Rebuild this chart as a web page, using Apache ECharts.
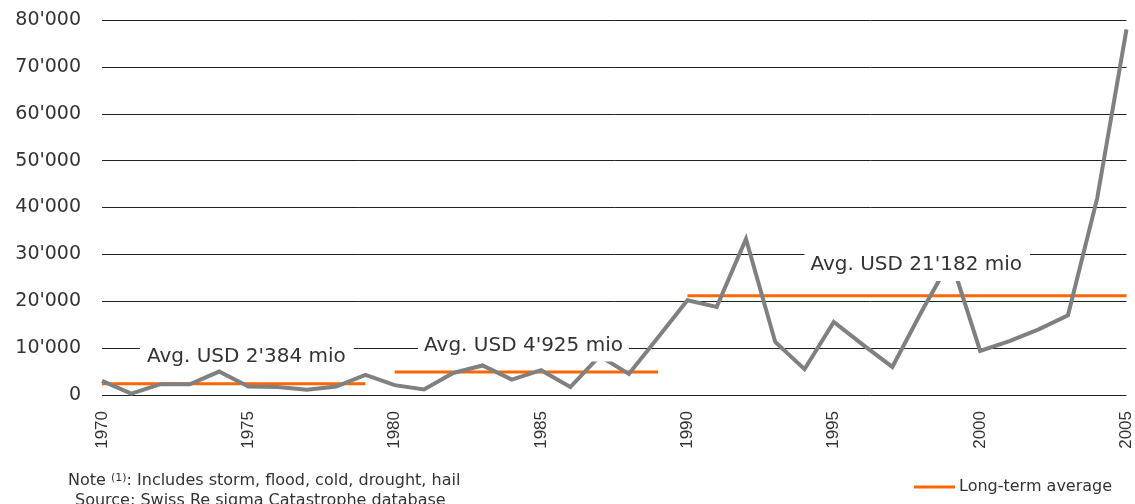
<!DOCTYPE html>
<html>
<head>
<meta charset="utf-8">
<script src="https://cdn.jsdelivr.net/npm/echarts@6/dist/echarts.min.js"></script>
<style>
  html, body { margin: 0; padding: 0; background: #ffffff; }
  #chart { width: 1135px; height: 504px; }
</style>
</head>
<body>
<div id="chart"></div>
<script>
// Weather-related insured losses per year, USD million
const years = [
  1970, 1971, 1972, 1973, 1974, 1975, 1976, 1977, 1978, 1979,
  1980, 1981, 1982, 1983, 1984, 1985, 1986, 1987, 1988, 1989,
  1990, 1991, 1992, 1993, 1994, 1995, 1996, 1997, 1998, 1999,
  2000, 2001, 2002, 2003, 2004, 2005
];
const insuredLosses = [
  3000, 300, 2300, 2300, 5000, 1800, 1700, 1100, 1800, 4300,
  2100, 1200, 4700, 6300, 3300, 5300, 1700, 8300, 4500, 12300,
  20200, 18800, 33300, 11300, 5500, 15600, 10700, 6000, 17800, 28900,
  9400, 11500, 14000, 17000, 42000, 78000
];

// Long-term averages per period
const periodStart = [1970, 1980, 1990];
const periodEnd = [1979, 1989, 2005];
const periodAverage = [2384, 4925, 21182];

// Axis ticks
const xTickYears = [1970, 1975, 1980, 1985, 1990, 1995, 2000, 2005];
const yTickLabels = ["0", "10'000", "20'000", "30'000", "40'000", "50'000", "60'000", "70'000", "80'000"];

const legendName = 'Long-term average';
const noteLead = 'Note ';
const noteMark = '(1)';
const noteBody = ': Includes storm, flood, cold, drought, hail';
const sourceText = 'Source: Swiss Re sigma Catastrophe database';

function swissThousands(n) {
  return String(Math.round(n)).replace(/\B(?=(\d{3})+(?!\d))/g, "'");
}

const FONT = 'DejaVu Sans';
const TEXT = '#333333';

// where each period label sits (year, value) and its box padding
const labelSpots = [
  { coord: [1974.95, 8100], padding: [2, 8, 1, 7] },
  { coord: [1984.4, 10560], padding: [6, 6, 6, 6] },
  { coord: [1997.85, 27730], padding: [6, 8, 6, 6] }
];

const averageSeries = periodAverage.map((avg, i) => ({
  type: 'line',
  name: legendName,
  data: [[periodStart[i], avg], [periodEnd[i], avg]],
  symbol: 'none',
  z: 2,
  silent: true,
  animation: false,
  lineStyle: { color: '#FF6600', width: 3 },
  itemStyle: { color: '#FF6600' },
  markPoint: {
    z: 6,
    symbol: 'rect',
    symbolSize: 1,
    silent: true,
    animation: false,
    itemStyle: { color: 'rgba(0,0,0,0)' },
    data: [{
      coord: labelSpots[i].coord,
      label: {
        show: true,
        position: 'inside',
        formatter: 'Avg. USD ' + swissThousands(avg) + ' mio',
        fontFamily: FONT,
        fontSize: 20,
        lineHeight: 20,
        color: TEXT,
        backgroundColor: '#ffffff',
        padding: labelSpots[i].padding
      }
    }]
  }
}));

const option = {
  backgroundColor: '#ffffff',
  animation: false,
  grid: { left: 102, right: 8, top: 20, bottom: 109, containLabel: false },
  legend: {
    data: [{ name: legendName, icon: 'rect' }],
    left: 914,
    top: 479,
    padding: 0,
    itemWidth: 41,
    itemHeight: 3,
    selectedMode: false,
    textStyle: { fontFamily: FONT, fontSize: 16, color: TEXT, padding: [0, 0, 0, -1] }
  },
  xAxis: {
    type: 'value',
    min: 1970,
    max: 2005,
    interval: 5,
    axisLine: { show: false },
    axisTick: { show: false },
    splitLine: { show: false },
    axisLabel: {
      rotate: 90,
      margin: 16,
      fontFamily: 'Liberation Sans',
      fontSize: 17,
      color: TEXT,
      formatter: v => (xTickYears.indexOf(v) >= 0 ? String(v) : '')
    }
  },
  yAxis: {
    type: 'value',
    min: 0,
    max: 80000,
    interval: 10000,
    axisLine: { show: false },
    axisTick: { show: false },
    splitLine: { show: true, lineStyle: { color: '#222222', width: 1 } },
    axisLabel: {
      margin: 21,
      fontFamily: FONT,
      fontSize: 19,
      color: TEXT,
      formatter: v => yTickLabels[Math.round(v / 10000)]
    }
  },
  graphic: [
    {
      type: 'text',
      left: 68,
      top: 473,
      silent: true,
      style: {
        text: '{n|' + noteLead + '}{s|' + noteMark + '}{n|' + noteBody + '}',
        rich: {
          n: { fontFamily: FONT, fontSize: 16, lineHeight: 16, fill: TEXT },
          s: { fontFamily: FONT, fontSize: 11, lineHeight: 16, fill: TEXT, verticalAlign: 'top' }
        }
      }
    },
    {
      type: 'text',
      left: 75,
      top: 493,
      silent: true,
      style: { text: sourceText, fontFamily: FONT, fontSize: 16, fill: TEXT }
    }
  ],
  series: [
    {
      type: 'line',
      name: 'Insured losses',
      data: years.map((y, i) => [y, insuredLosses[i]]),
      symbol: 'none',
      z: 3,
      silent: true,
      clip: false,
      lineStyle: { color: '#808080', width: 4, join: 'miter' }
    }
  ].concat(averageSeries)
};

const chart = echarts.init(document.getElementById('chart'), null, { renderer: 'canvas' });
chart.setOption(option);
</script>
</body>
</html>
